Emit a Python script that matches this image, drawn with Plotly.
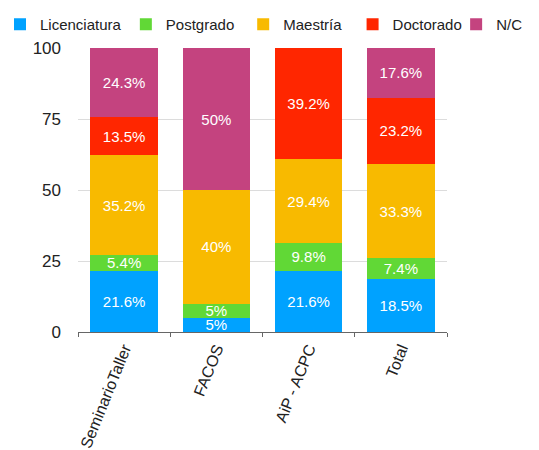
import plotly.graph_objects as go

categories = ["SeminarioTaller", "FACOS", "AiP - ACPC", "Total"]
series_names = ["Licenciatura", "Postgrado", "Maestría", "Doctorado", "N/C"]
licenciatura = [21.6, 5, 21.6, 18.5]
postgrado = [5.4, 5, 9.8, 7.4]
maestria = [35.2, 40, 29.4, 33.3]
doctorado = [13.5, 0, 39.2, 23.2]
nc = [24.3, 50, 0, 17.6]
colors = ["#00A2FF", "#61D836", "#F8BA00", "#FF2600", "#C4437F"]
y_ticks = [0, 25, 50, 75, 100]

series = [licenciatura, postgrado, maestria, doctorado, nc]
legend_ids = ["legend", "legend2", "legend3", "legend4", "legend5"]
legend_x = [0.0, 0.237, 0.458, 0.664, 0.859]

fig = go.Figure()
for name, vals, col, lg in zip(series_names, series, colors, legend_ids):
    fig.add_trace(go.Bar(
        x=categories, y=vals, name=name, marker=dict(color=col, line=dict(width=0)),
        text=[f"{v:g}%" if v else "" for v in vals],
        textposition="inside", insidetextanchor="middle", textangle=0,
        constraintext="none",
        textfont=dict(color="white", size=15, family="Liberation Sans, Arial, sans-serif"),
        hoverinfo="skip", legend=lg,
    ))

legend_style = dict(orientation="h", xref="container", yref="container", y=1.0,
                    xanchor="left", yanchor="top", font=dict(size=15, color="#222"),
                    itemwidth=30, indentation=-8, bgcolor="rgba(0,0,0,0)")
legends = {lg: dict(legend_style, x=lx) for lg, lx in zip(legend_ids, legend_x)}

# page body has an 8px margin, so the figure is sized 8px smaller
fig.update_layout(
    barmode="stack", bargap=0.27,
    width=531, height=442,
    margin=dict(l=70, r=92, t=40, b=118, autoexpand=False),
    paper_bgcolor="white", plot_bgcolor="white",
    font=dict(family="Liberation Sans, Arial, sans-serif", color="#222"),
    showlegend=True,
    **legends,
)
fig.update_xaxes(showline=True, linecolor="#666", linewidth=1.2, ticks="outside",
                 tickson="boundaries", ticklen=4, tickcolor="#666", tickangle=-68,
                 tickfont=dict(size=16, color="#222"), showgrid=False, automargin=False)
fig.update_yaxes(range=[0, 100], tickvals=y_ticks, showgrid=True, gridcolor="#dcdcdc",
                 zeroline=False, tickfont=dict(size=17, color="#222"), ticks="",
                 ticklabelstandoff=16, automargin=False)

fig.write_html("out.html")
